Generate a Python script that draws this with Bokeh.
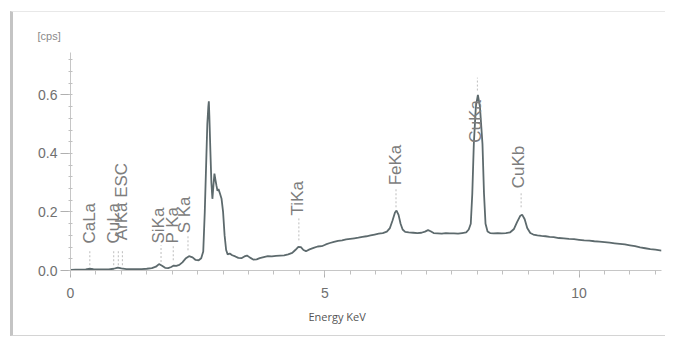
import numpy as np
from bokeh.plotting import figure
from bokeh.models import FixedTicker, Title, ColumnDataSource, PrintfTickFormatter, Range1d
from bokeh.core.properties import value
from bokeh.embed import file_html
from bokeh.resources import INLINE

# ---- spectrum ----
energy = [0.00, 0.10, 0.20, 0.30, 0.38, 0.45, 0.55, 0.65, 0.75, 0.85, 0.93, 1.00, 1.10, 1.20,
          1.30, 1.40, 1.50, 1.60, 1.68, 1.74, 1.80, 1.86, 1.92, 1.98, 2.03, 2.08, 2.14, 2.20,
          2.27, 2.33, 2.40, 2.46, 2.52, 2.57, 2.61, 2.64, 2.67, 2.69, 2.71, 2.72, 2.73, 2.75,
          2.77, 2.79, 2.81, 2.83, 2.85, 2.87, 2.89, 2.91, 2.94, 2.97, 3.00, 3.03, 3.06, 3.09,
          3.13, 3.18, 3.24, 3.30, 3.36, 3.42, 3.47, 3.53, 3.60, 3.66, 3.72, 3.80, 3.88, 3.96,
          4.04, 4.12, 4.20, 4.28, 4.36, 4.42, 4.48, 4.53, 4.58, 4.63, 4.70, 4.78, 4.86, 4.94,
          5.02, 5.10, 5.18, 5.26, 5.34, 5.42, 5.50, 5.58, 5.66, 5.74, 5.82, 5.90, 5.98, 6.06,
          6.14, 6.22, 6.28, 6.33, 6.38, 6.41, 6.45, 6.49, 6.53, 6.58, 6.65, 6.74, 6.82, 6.90,
          6.97, 7.03, 7.08, 7.14, 7.22, 7.30, 7.38, 7.46, 7.54, 7.62, 7.70, 7.78, 7.83, 7.87,
          7.90, 7.93, 7.97, 8.01, 8.05, 8.10, 8.13, 8.16, 8.20, 8.25, 8.32, 8.40, 8.48, 8.56,
          8.64, 8.72, 8.78, 8.84, 8.88, 8.93, 8.98, 9.04, 9.10, 9.18, 9.26, 9.34, 9.42, 9.50,
          9.60, 9.70, 9.80, 9.90, 10.00, 10.10, 10.20, 10.30, 10.40, 10.50, 10.60, 10.70,
          10.80, 10.90, 11.00, 11.10, 11.20, 11.30, 11.40, 11.50, 11.62]
counts = [0.002, 0.003, 0.003, 0.004, 0.006, 0.005, 0.004, 0.004, 0.004, 0.006, 0.010, 0.007, 0.005, 0.005,
          0.005, 0.005, 0.006, 0.008, 0.013, 0.022, 0.016, 0.009, 0.008, 0.012, 0.017, 0.016, 0.019, 0.028,
          0.042, 0.049, 0.045, 0.036, 0.035, 0.042, 0.065, 0.200, 0.380, 0.500, 0.560, 0.578, 0.530, 0.410,
          0.300, 0.245, 0.290, 0.331, 0.310, 0.290, 0.272, 0.278, 0.262, 0.245, 0.200, 0.120, 0.070, 0.055,
          0.058, 0.052, 0.048, 0.043, 0.042, 0.048, 0.051, 0.044, 0.037, 0.038, 0.042, 0.046, 0.049, 0.048,
          0.050, 0.051, 0.052, 0.055, 0.060, 0.070, 0.081, 0.080, 0.070, 0.066, 0.072, 0.077, 0.082, 0.083,
          0.089, 0.094, 0.098, 0.101, 0.103, 0.106, 0.108, 0.110, 0.112, 0.115, 0.117, 0.120, 0.123, 0.126,
          0.128, 0.133, 0.145, 0.170, 0.198, 0.205, 0.190, 0.160, 0.140, 0.132, 0.130, 0.129, 0.128, 0.129,
          0.133, 0.138, 0.134, 0.128, 0.127, 0.126, 0.128, 0.127, 0.127, 0.126, 0.128, 0.130, 0.140, 0.160,
          0.263, 0.433, 0.560, 0.600, 0.560, 0.433, 0.263, 0.160, 0.133, 0.128, 0.127, 0.128, 0.127, 0.128,
          0.130, 0.142, 0.165, 0.186, 0.191, 0.175, 0.145, 0.128, 0.123, 0.120, 0.118, 0.117, 0.115, 0.114,
          0.111, 0.110, 0.108, 0.107, 0.105, 0.103, 0.102, 0.100, 0.099, 0.097, 0.095, 0.093,
          0.091, 0.089, 0.086, 0.083, 0.079, 0.076, 0.073, 0.071, 0.068]

# ---- peak labels ----
peak_names = ["CaLa", "CuLa", "ArKa ESC", "SiKa", "P Ka", "S Ka", "TiKa", "FeKa", "CuKa", "CuKb"]
peak_energy = [0.38, 0.85, 1.00, 1.74, 2.00, 2.25, 4.46, 6.39, 7.96, 8.81]
peak_label_y = [0.092, 0.092, 0.103, 0.092, 0.092, 0.127, 0.188, 0.291, 0.437, 0.281]

# ---- dashed marker lines ----
marker_energy = [0.38, 0.85, 0.94, 1.02, 1.78, 2.02, 2.31, 4.49, 6.40, 8.00, 8.86]
marker_lo = [0.018, 0.018, 0.018, 0.018, 0.029, 0.035, 0.069, 0.103, 0.216, 0.615, 0.216]
marker_hi = [0.069, 0.069, 0.069, 0.069, 0.086, 0.086, 0.120, 0.178, 0.281, 0.659, 0.267]

x_major = [0, 5, 10]
x_minor = [0.5 * i for i in range(24)]
y_major = [0.0, 0.2, 0.4, 0.6]
y_minor = [0.04 * i for i in range(19)]

p = figure(width=655, height=325, output_backend="svg", toolbar_location=None,
           x_range=Range1d(0, 11.62), y_range=Range1d(0, 0.745),
           min_border_left=57, min_border_right=7, min_border_top=40, min_border_bottom=67,
           background_fill_color="white", border_fill_color="white")
p.styles = {"margin-left": "10px", "margin-top": "11px",
            "border-left": "3px solid #c4c4c4", "border-top": "1px solid #e8e8e8",
            "border-bottom": "1px solid #d4d4d4"}
p.outline_line_color = None
p.grid.visible = False

line_col = "#5d6a6d"
p.line(energy, counts, line_color=line_col, line_width=1.8)

p.segment(x0=marker_energy, y0=marker_lo, x1=marker_energy, y1=marker_hi,
          line_color="#bdbdbd", line_width=1, line_dash="2 2")

src = ColumnDataSource(dict(x=peak_energy, y=peak_label_y, t=peak_names))
p.text(x="x", y="y", text="t", source=src, angle=np.pi / 2, text_align="left",
       text_baseline="middle", text_font=value("Liberation Sans"), text_font_size="17px",
       text_color="#7d7d7d")

for ax in (p.xaxis[0], p.yaxis[0]):
    ax.axis_line_color = "#c6c6c6"
    ax.axis_line_width = 1
    ax.major_tick_line_color = "#b0b0b0"
    ax.minor_tick_line_color = "#c0c0c0"
    ax.major_label_text_font = "Liberation Sans"
    ax.major_label_text_font_size = "14px"
    ax.major_label_text_color = "#707070"

p.xaxis.ticker = FixedTicker(ticks=x_major, minor_ticks=x_minor)
p.xaxis.major_tick_out = 7
p.xaxis.major_tick_in = 0
p.xaxis.minor_tick_out = 4
p.xaxis.minor_tick_in = 0
p.xaxis.major_label_standoff = 10

p.yaxis.ticker = FixedTicker(ticks=y_major, minor_ticks=y_minor)
p.yaxis.formatter = PrintfTickFormatter(format="%.1f")
p.yaxis.major_tick_out = 10
p.yaxis.major_tick_in = 0
p.yaxis.minor_tick_out = 2
p.yaxis.minor_tick_in = 2
p.yaxis.major_label_standoff = 3

t_x = Title(text="Energy KeV", align="left", offset=238, text_font="Open Sans",
            text_font_size="11px", text_font_style="normal", text_color="#555555")
t_y = Title(text="[cps]", align="left", offset=-33, text_font="Liberation Sans",
            text_font_size="11px", text_font_style="normal", text_color="#8a8a8a")
if "standoff" in Title.properties():
    t_x.standoff = 13
    t_y.standoff = 21
p.add_layout(t_x, "below")
p.add_layout(t_y, "above")

open("out.html", "w").write(file_html(p, INLINE))
